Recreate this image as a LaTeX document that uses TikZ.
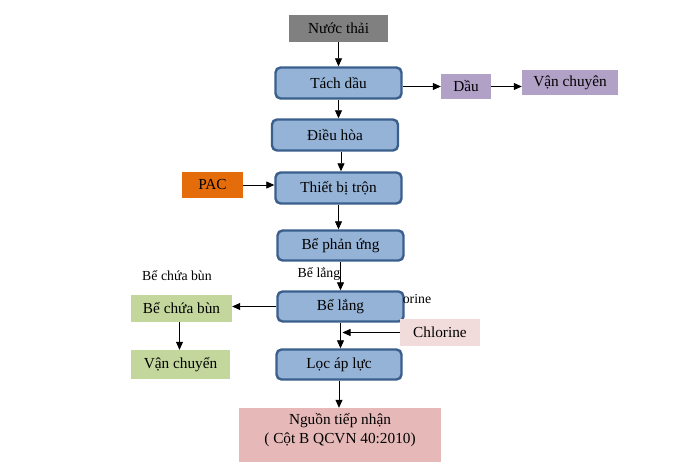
\documentclass[tikz,border=0pt]{standalone}
\usepackage{fontspec}
\setmainfont{Liberation Serif}
\usetikzlibrary{arrows.meta}
\definecolor{gray1}{HTML}{808080}
\definecolor{bluef}{HTML}{95B3D7}
\definecolor{blued}{HTML}{3A5F8C}
\definecolor{purp}{HTML}{B2A1C7}
\definecolor{orng}{HTML}{E46C0A}
\definecolor{grn}{HTML}{C3D69B}
\definecolor{pinkl}{HTML}{F2DCDB}
\definecolor{pinkd}{HTML}{E6B9B8}
\tikzset{
  proc/.style={draw=blued, fill=bluef, line width=2.4pt, rounded corners=5pt, minimum width=126pt, minimum height=31pt, inner sep=0pt, font=\fontsize{15.3}{17}\selectfont},
  plain/.style={fill=#1, minimum width=50pt, minimum height=25pt, inner sep=0pt, font=\fontsize{15.3}{17}\selectfont},
  small/.style={font=\fontsize{13.8}{15}\selectfont, inner sep=0pt},
  arr/.style={-{Triangle[length=8pt,width=7pt]}, line width=0.8pt}
}
\begin{document}
\begin{tikzpicture}[x=1pt,y=-1pt]
\useasboundingbox (0,0) rectangle (675,468);
\node[plain=gray1, minimum width=99pt, minimum height=27pt] (nt) at (338.5,28.5) {Nước thải};
\node[proc] (td) at (338.5,83) {Tách dầu};
\node[plain=purp, minimum width=50pt, minimum height=25pt] (dau) at (466,86.5) {Dầu};
\node[plain=purp, minimum width=96pt, minimum height=25pt] (vc1) at (570,82.5) {Vận chuyên};
\node[proc] (dh) at (335,135) {Điều hòa};
\node[plain=orng, minimum width=61pt, minimum height=26pt] (pac) at (212.5,185) {PAC};
\node[proc] (tb) at (338.5,188) {Thiết bị trộn};
\node[proc, minimum height=30pt] (bpu) at (340.5,245.5) {Bể phản ứng};
\node[proc, minimum height=30pt] (bl) at (340.5,306.5) {Bể lắng};
\node[plain=grn, minimum width=101pt, minimum height=27pt] (bcb) at (181.5,308.5) {Bể chứa bùn};
\node[plain=pinkl, minimum width=80pt, minimum height=27pt] (chl) at (440,332.5) {Chlorine};
\node[proc, minimum width=125pt, minimum height=30pt] (lal) at (339,364.5) {Lọc áp lực};
\node[plain=grn, minimum width=99pt, minimum height=29pt] (vc2) at (180.5,364.5) {Vận chuyển};
\node[plain=pinkd, minimum width=202pt, minimum height=54pt] (ng) at (340,435) {};
\node[font=\fontsize{15.3}{19}\selectfont, align=center, inner sep=0pt] (ngt) at (340,430) {Nguồn tiếp nhận\\( Cột B QCVN 40:2010)};
\node[small] (lb1) at (177,276) {Bể chứa bùn};
\node[small] (lb2) at (319,274) {Bể lắng};
\node[small] (lb3) at (417,299) {orine};
\coordinate (chlend) at ([xshift=2pt]bl.south |- chl.west);
\draw[arr] (nt.south) -- (nt.south |- td.north);
\draw[arr] (td.east |- dau.west) -- (dau.west);
\draw[arr] (dau.east) -- (dau.east -| vc1.west);
\draw[arr] (td.south) -- (td.south |- dh.north);
\draw[arr] ([xshift=6pt]dh.south) -- ([xshift=6pt]dh.south |- tb.north);
\draw[arr] (pac.east) -- (pac.east -| tb.west);
\draw[arr] (tb.south) -- (tb.south |- bpu.north);
\draw[arr] (bpu.south) -- (bpu.south |- bl.north);
\draw[arr] (bl.west) -- (bl.west -| bcb.east);
\draw[arr] ([xshift=-2pt]bcb.south) -- ([xshift=-2pt]bcb.south |- vc2.north);
\draw[arr] (bl.south) -- (bl.south |- lal.north);
\draw[arr] (chl.west) -- (chlend);
\draw[arr] (lal.south) -- (lal.south |- ng.north);
\end{tikzpicture}
\end{document}
